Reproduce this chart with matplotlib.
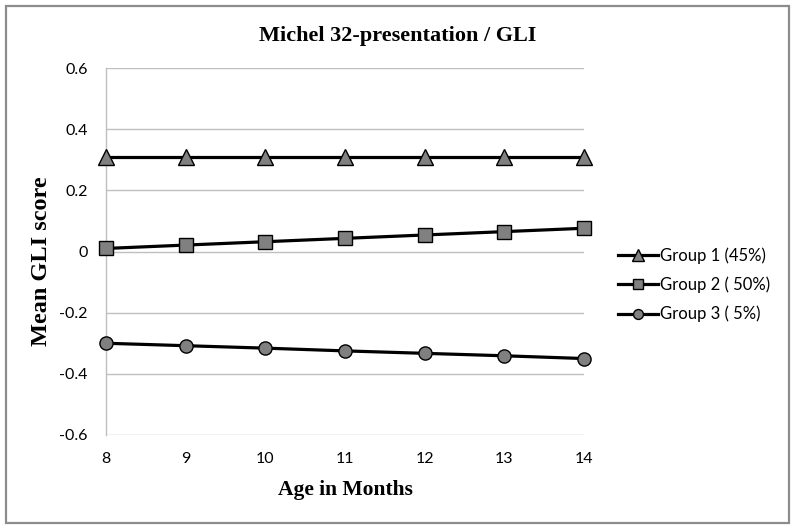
import matplotlib
matplotlib.use("Agg")
import matplotlib.pyplot as plt
from matplotlib.patches import Rectangle

ages = [8, 9, 10, 11, 12, 13, 14]
group1 = [0.31, 0.31, 0.31, 0.31, 0.31, 0.31, 0.31]
group2 = [0.01, 0.021, 0.032, 0.043, 0.054, 0.065, 0.076]
group3 = [-0.30, -0.308, -0.316, -0.325, -0.333, -0.341, -0.35]
labels = ["Group 1 (45%)", "Group 2 ( 50%)", "Group 3 ( 5%)"]
yticks = [-0.6, -0.4, -0.2, 0, 0.2, 0.4, 0.6]
yticklabels = ["-0.6", "-0.4", "-0.2", "0", "0.2", "0.4", "0.6"]

fig = plt.figure(figsize=(7.95, 5.3), dpi=100)
fig.patches.append(Rectangle((6/795, 7/530), 783/795, 517/530, transform=fig.transFigure,
                             fill=False, edgecolor="#8c8c8c", linewidth=1.6))
ax = fig.add_axes([106/795, 95/530, 478/795, 367/530])

grid_c = "#bfbfbf"
for y in yticks:
    ax.axhline(y, color=grid_c, linewidth=1.0, zorder=0)

common = dict(color="black", linewidth=2.3, markerfacecolor="#808080",
              markeredgecolor="black", markeredgewidth=1.0, clip_on=False, zorder=3)
ax.plot(ages, group1, marker="^", markersize=11, label=labels[0], **common)
ax.plot(ages, group2, marker="s", markersize=9.5, label=labels[1], **common)
ax.plot(ages, group3, marker="o", markersize=9.5, label=labels[2], **common)

ax.set_xlim(8, 14)
ax.set_ylim(-0.6, 0.6)
ax.set_xticks(ages)
ax.set_yticks(yticks)
ax.set_yticklabels(yticklabels)
for lab in ax.get_xticklabels() + ax.get_yticklabels():
    lab.set_fontfamily("Lato")
    lab.set_fontsize(11.5)
ax.tick_params(length=0, pad=13, colors="black")
ax.tick_params(axis="x", pad=12)

for s in ["top", "right", "bottom"]:
    ax.spines[s].set_visible(False)
ax.spines["left"].set_color(grid_c)
ax.spines["left"].set_linewidth(1.0)

fig.text(398/795, 1 - 36/530, "Michel 32-presentation / GLI", ha="center", va="center",
         family="Liberation Serif", fontweight="bold", fontsize=16)
fig.text(345/795, 1 - 490/530, "Age in Months", ha="center", va="center",
         family="Liberation Serif", fontweight="bold", fontsize=15.5)
fig.text(42/795, 1 - 261/530, "Mean GLI score", ha="center", va="center", rotation=90,
         family="Liberation Serif", fontweight="bold", fontsize=17.5)

leg = ax.legend(loc="center left", bbox_to_anchor=(618/795, 1 - 285/530), bbox_transform=fig.transFigure,
                frameon=False, prop=dict(family="Lato", size=12), handlelength=2.4,
                handletextpad=0.1, labelspacing=0.75, borderaxespad=0, borderpad=0,
                markerscale=0.75)

fig.savefig("out.png", dpi=100)
